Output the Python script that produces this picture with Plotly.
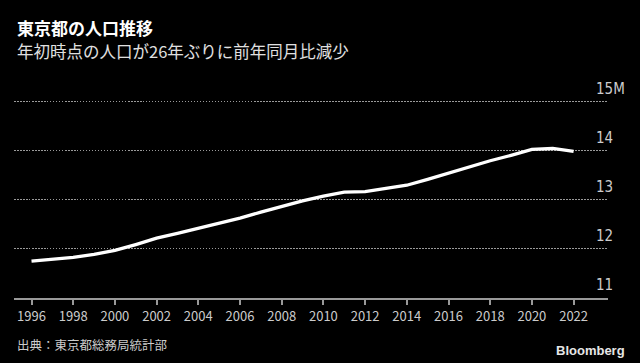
import plotly.graph_objects as go

years = list(range(1996, 2023))
population_m = [11.75, 11.79, 11.83, 11.89, 11.97, 12.09, 12.22, 12.32, 12.42, 12.52,
                12.63, 12.75, 12.87, 12.98, 13.08, 13.16, 13.17, 13.23, 13.30, 13.42,
                13.55, 13.67, 13.80, 13.91, 14.03, 14.05, 13.99]

x_tickvals = list(range(1996, 2023, 2))
y_tickvals = [11, 12, 13, 14, 15]
y_ticktext = ["11", "12", "13", "14", "15M"]

title = "東京都の人口推移"
subtitle = "年初時点の人口が26年ぶりに前年同月比減少"
source = "出典：東京都総務局統計部"

CJK = "Noto Sans CJK JP, Noto Sans, sans-serif"
NARROW = "Liberation Sans Narrow, DejaVu Sans Condensed, Noto Sans CJK JP, sans-serif"

# plot area: x 14..608 px, y 97..298 px
PT, PB = 97, 298
H = PB - PT
def py(px):
    return (PB - px) / H

fig = go.Figure()
fig.add_trace(go.Scatter(x=years, y=population_m, mode="lines",
                         line=dict(color="#ffffff", width=3.3), hoverinfo="skip",
                         showlegend=False))

annotations = [
    dict(text=f"<b>{title}</b>", xref="paper", yref="paper", x=0.0017, y=py(28),
         xanchor="left", yanchor="middle", showarrow=False,
         font=dict(family=CJK, size=17, color="#ffffff")),
    dict(text=subtitle, xref="paper", yref="paper", x=0.0017, y=py(51),
         xanchor="left", yanchor="middle", showarrow=False,
         font=dict(family=CJK, size=16.5, color="#e0e0e0")),
    dict(text=source, xref="paper", yref="paper", x=0.0017, y=py(344),
         xanchor="left", yanchor="middle", showarrow=False,
         font=dict(family=CJK, size=12.5, color="#cccccc")),
    dict(text="<b>Bloomberg</b>", xref="paper", yref="paper", x=1.032, y=py(350),
         xanchor="right", yanchor="middle", showarrow=False,
         font=dict(family="Liberation Sans, Arial, sans-serif", size=13, color="#e6e6e6")),
]
for v, t in zip(y_tickvals, y_ticktext):
    annotations.append(dict(text=t, xref="paper", yref="y", x=(594 - 14) / 594, y=v,
                            xanchor="left", yanchor="middle", yshift=13, showarrow=False,
                            font=dict(family=NARROW, size=15, color="#cccccc")))

fig.update_layout(
    width=640, height=363,
    margin=dict(l=14, r=32, t=PT, b=363 - PB),
    paper_bgcolor="#000000", plot_bgcolor="#000000",
    annotations=annotations,
    xaxis=dict(range=[1995.16, 2023.65], tickvals=x_tickvals,
               ticks="outside", ticklen=5, tickwidth=1.5, tickcolor="#999999",
               showline=True, linecolor="#999999", linewidth=2,
               showgrid=False, zeroline=False,
               tickfont=dict(family=CJK, size=13, color="#cccccc")),
    yaxis=dict(range=[11, 15.1], tickvals=y_tickvals, showticklabels=False,
               showgrid=True, gridcolor="#9a9a9a", griddash="1.5px,1.5px", gridwidth=1,
               zeroline=False, showline=False),
)

fig.write_html("out.html", config={"displayModeBar": False},
               post_script="document.body.style.margin='0';document.body.style.overflow='hidden';")
